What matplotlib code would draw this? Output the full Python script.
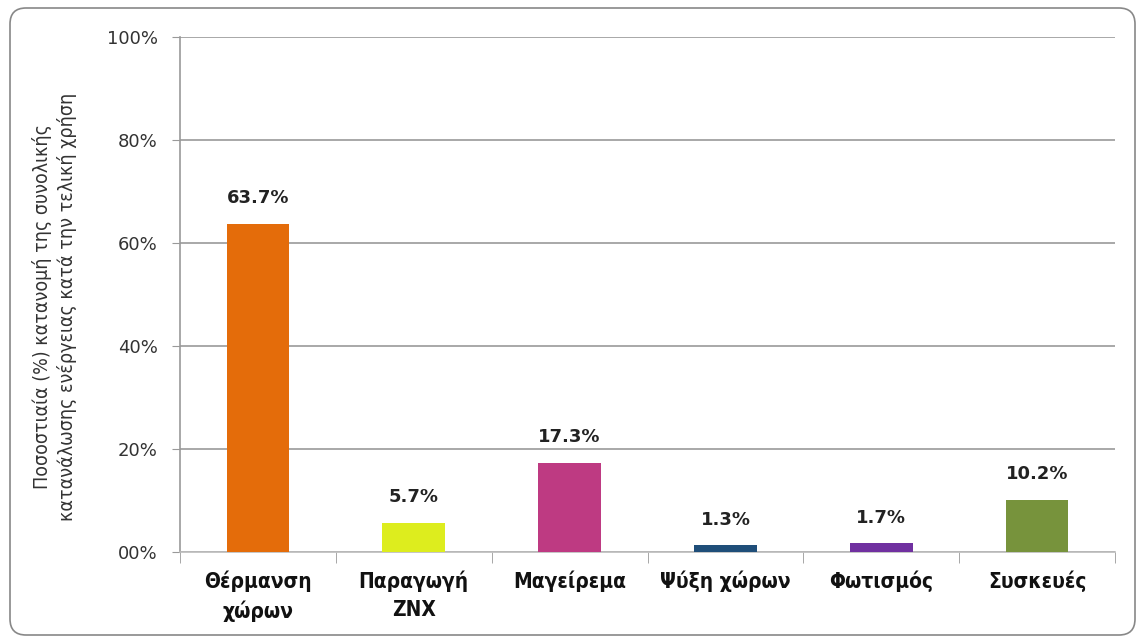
import matplotlib.pyplot as plt
from matplotlib.patches import FancyBboxPatch

# 데이터
categories = ['Θέρμανση\nχώρων', 'Παραγωγή\nZNX', 'Μαγείρεμα', 'Ψύξη χώρων', 'Φωτισμός', 'Συσκευές']
values = [63.7, 5.7, 17.3, 1.3, 1.7, 10.2]
colors = ['#E46C0A', '#DDED1E', '#BE3A82', '#1F4E79', '#7030A0', '#77933C']
yticks = [0, 20, 40, 60, 80, 100]
ytick_labels = ['00%', '20%', '40%', '60%', '80%', '100%']
ylabel = 'Ποσοστιαία (%) κατανομή της συνολικής\nκατανάλωσης ενέργειας κατά την τελική χρήση'

plt.rcParams['font.family'] = ['DejaVu Sans']

fig = plt.figure(figsize=(11.38, 6.39), dpi=100)
ax = fig.add_axes([0.158, 0.136, 0.822, 0.806])

# 둥근 테두리 (인치 단위)
box = FancyBboxPatch((0.10, 0.04), 11.25, 6.27, boxstyle='round,pad=0,rounding_size=0.16',
                     transform=fig.dpi_scale_trans, facecolor='white', edgecolor='#888888',
                     linewidth=1.2, zorder=-10)
fig.patches.append(box)

x = range(len(categories))
ax.bar(x, values, width=0.4, color=colors, zorder=3)

for i, v in enumerate(values):
    ax.annotate(f'{v}%', (i, v), xytext=(0, 12), textcoords='offset points',
                ha='center', va='bottom', fontsize=13, fontweight='bold', color='#222222')

ax.set_xlim(-0.5, len(categories) - 0.5)
ax.set_ylim(0, 100)
ax.set_yticks(yticks)
ax.set_yticklabels(ytick_labels, fontsize=13, color='#333333')
ax.set_xticks(list(x))
ax.set_xticklabels(categories, fontsize=15, fontweight='bold', color='#111111',
                   fontstretch='condensed', linespacing=1.5)
ax.tick_params(axis='x', which='major', length=0, pad=13)
ax.set_xticks([i + 0.5 for i in range(-1, len(categories))], minor=True)
ax.tick_params(axis='x', which='minor', length=8, color='#999999')
ax.tick_params(axis='y', length=6, color='#999999', pad=10)

ax.grid(axis='y', color='#999999', linewidth=1.2, zorder=0)
for s in ['top', 'right']:
    ax.spines[s].set_visible(False)
ax.spines['left'].set_color('#999999')
ax.spines['bottom'].set_color('#bbbbbb')
ax.spines['left'].set_linewidth(1.2)
ax.spines['bottom'].set_linewidth(1.2)

fig.text(0.048, 0.52, ylabel, rotation=90, ha='center', va='center', fontsize=14,
         color='#333333', linespacing=1.35, fontstretch='condensed')

fig.savefig('out.png', dpi=100)
